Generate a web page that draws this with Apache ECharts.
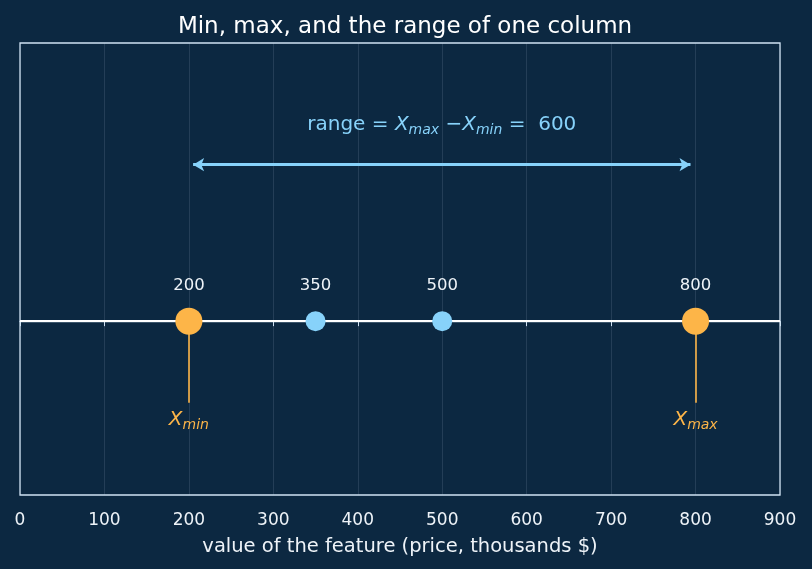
<!DOCTYPE html>
<html>
<head>
<meta charset="utf-8">
<script src="https://cdn.jsdelivr.net/npm/echarts@6/dist/echarts.min.js"></script>
<style>
  html, body { margin: 0; padding: 0; background: #0c2841; }
  #chart { width: 812px; height: 569px; }
</style>
</head>
<body>
<div id="chart"></div>
<script>
// values of the one column
const extremeValues = [200, 800];
const middleValues = [350, 500];
const xMin = 200;
const xMax = 800;
const rangeValue = xMax - xMin;
const axisMin = 0;
const axisMax = 900;
const axisStep = 100;

const ORANGE = "#fdb548";
const BLUE = "#87d2fa";
const TEXT = "#eef3f8";
const FONT = "DejaVu Sans";

const chart = echarts.init(document.getElementById("chart"));

const subRich = (color) => ({
  x: { fontStyle: "italic", fontSize: 20, color: color, fontFamily: FONT, lineHeight: 26 },
  s: { fontStyle: "italic", fontSize: 14, color: color, fontFamily: FONT, lineHeight: 26, padding: [11, 0, 0, 0] },
  n: { fontSize: 20, color: color, fontFamily: FONT, lineHeight: 26 }
});

chart.setOption({
  backgroundColor: "#0c2841",
  animation: false,
  title: {
    text: "Min, max, and the range of one column",
    left: 400,
    textAlign: "center",
    top: 11,
    textStyle: { color: "#ffffff", fontSize: 23, fontWeight: "normal", fontFamily: FONT }
  },
  grid: {
    left: 20, right: 32, top: 43, bottom: 74,
    show: true, borderColor: "#cfe2f3", borderWidth: 1.3, backgroundColor: "#0c2841"
  },
  xAxis: {
    type: "value",
    min: axisMin, max: axisMax, interval: axisStep,
    name: "value of the feature (price, thousands $)",
    nameLocation: "middle",
    nameGap: 42,
    nameTextStyle: { color: TEXT, fontSize: 19.5, fontFamily: FONT },
    axisLine: { show: true, lineStyle: { color: "#cfe2f3", width: 1.3 } },
    axisTick: { show: true, length: 5, lineStyle: { color: "#cfe2f3" } },
    axisLabel: { color: TEXT, fontSize: 17, fontFamily: FONT, margin: 17 },
    splitLine: { show: true, lineStyle: { color: "rgba(200,220,240,0.13)", width: 1 } }
  },
  yAxis: {
    type: "value",
    min: -1, max: 1.6,
    show: false,
    splitLine: { show: false }
  },
  series: [
    {
      type: "scatter",
      z: 3,
      symbolSize: 20,
      itemStyle: { color: BLUE, opacity: 1 },
      data: middleValues.map(v => [v, 0]),
      label: {
        show: true, position: "top", distance: 17,
        color: TEXT, fontSize: 16.5, fontFamily: FONT,
        formatter: p => String(p.value[0])
      },
      markLine: {
        silent: true,
        symbol: ["none", "none"],
        z: 1,
        label: { show: false },
        lineStyle: { color: "#ffffff", width: 2, type: "solid" },
        data: [{ yAxis: 0 }]
      }
    },
    {
      type: "scatter",
      z: 4,
      symbolSize: 27,
      itemStyle: { color: ORANGE, opacity: 1 },
      data: extremeValues.map(v => [v, 0]),
      label: {
        show: true, position: "top", distance: 13,
        color: TEXT, fontSize: 16.5, fontFamily: FONT,
        formatter: p => String(p.value[0])
      },
      markLine: {
        silent: true,
        symbol: ["none", "none"],
        z: 2,
        lineStyle: { color: ORANGE, width: 1.6, type: "solid" },
        label: {
          show: true, position: "end", distance: 4,
          rich: subRich(ORANGE)
        },
        data: [
          [{ coord: [xMin, 0] }, { coord: [xMin, -0.47], label: { formatter: "{x|X}{s|min}" } }],
          [{ coord: [xMax, 0] }, { coord: [xMax, -0.47], label: { formatter: "{x|X}{s|max}" } }]
        ]
      }
    },
    {
      type: "scatter",
      data: [],
      markLine: {
        silent: true,
        symbol: ["arrow", "arrow"],
        symbolSize: [10, 11],
        lineStyle: { color: BLUE, width: 3, type: "solid" },
        label: {
          show: true, position: "middle", distance: 27,
          formatter: "{n|range = }{x|X}{s|max}{n| −}{x|X}{s|min}{n| =  " + rangeValue + "}",
          rich: subRich(BLUE)
        },
        data: [[{ coord: [xMin + 5, 0.9] }, { coord: [xMax - 6, 0.9] }]]
      }
    }
  ]
});
</script>
</body>
</html>
